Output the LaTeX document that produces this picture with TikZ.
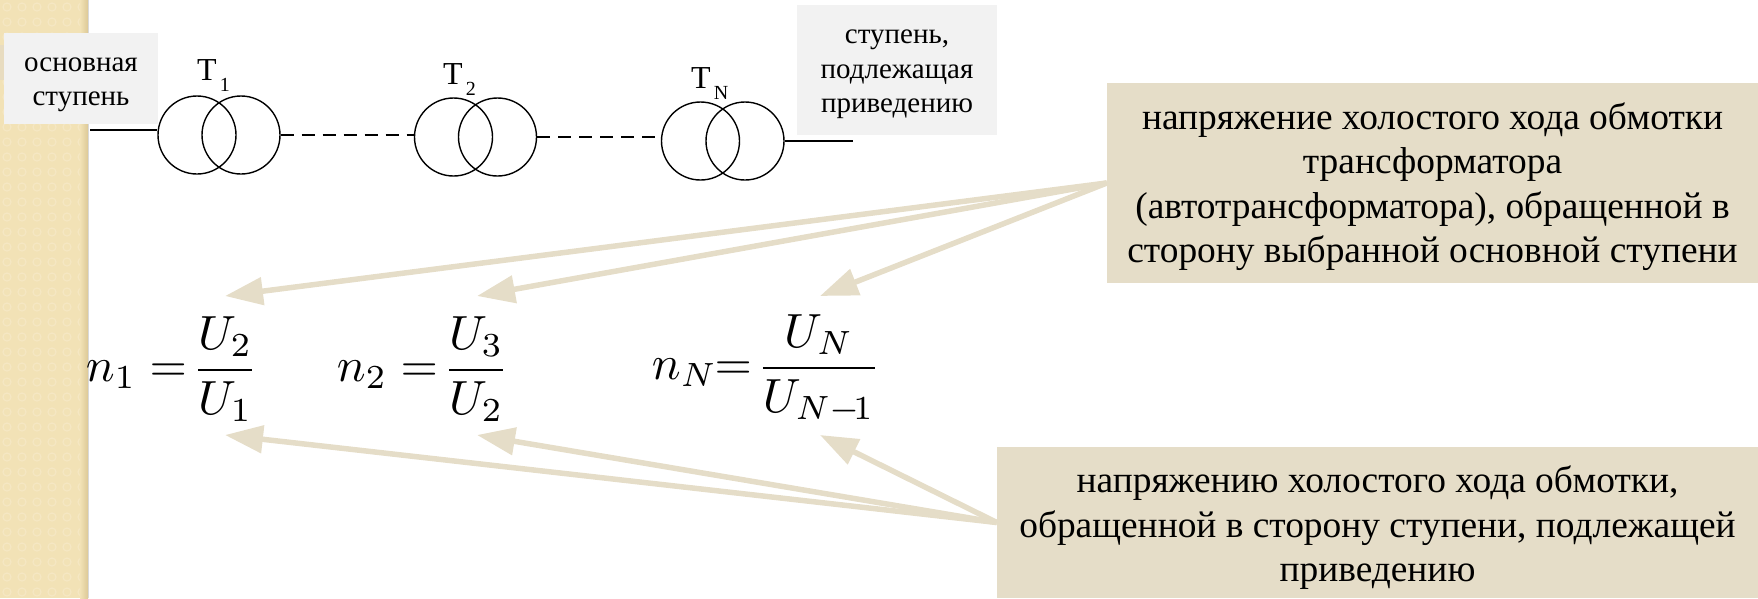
\documentclass[tikz,border=0pt]{standalone}
\usepackage{fontspec}
\setmainfont{Liberation Serif}
\usepackage{tikz}
\usetikzlibrary{positioning,arrows.meta}
\definecolor{calloutfill}{HTML}{E5DDC8}
\definecolor{labelfill}{HTML}{F2F2F2}
\definecolor{bandfill}{HTML}{F2E2B6}
\definecolor{banddot}{HTML}{F5E7C3}
\definecolor{bandedge}{HTML}{DCC996}
\definecolor{bandpatch}{HTML}{E8DCC0}
\newcommand{\tsub}[1]{\kern3pt\raisebox{-11pt}{\fontsize{20}{20}\selectfont #1}}
\tikzset{
  callarrow/.style={-{Triangle[length=38pt,width=27pt]}, line width=5.5pt, color=calloutfill},
  callout/.style={fill=calloutfill, inner sep=0pt, align=center, font=\fontsize{37.4}{44.5}\selectfont},
  stagelabel/.style={fill=labelfill, inner sep=0pt, align=center, font=\fontsize{29}{34.5}\selectfont},
  winding/.style={draw, circle, line width=1.4pt, minimum size=78pt, inner sep=0pt},
  busline/.style={line width=1.4pt},
  dashline/.style={line width=1.4pt, dash pattern=on 13pt off 8pt},
  tlabel/.style={inner sep=0pt, font=\fontsize{32}{36}\selectfont},
  formula/.style={inner sep=0pt, scale=4.8, anchor=west}
}
\begin{document}
\begin{tikzpicture}[x=1pt, y=-1pt]
  \useasboundingbox (0,0) rectangle (1758,598);
  % left band
  \fill[bandfill] (0,0) rectangle (88,598);
  \foreach \i in {0,...,5}
    \foreach \j in {0,...,39}
      \draw[banddot, line width=1.2pt] ({7+15*\i},{7+15*\j}) circle (4pt);
  \shade[left color=bandfill, right color=bandedge] (80,0) rectangle (88,598);
  \fill[gray!30] (88,0) rectangle (89,598);
  \fill[bandpatch] (0,45) rectangle (4,80);
  % labels
  \node[stagelabel, minimum width=154pt, minimum height=91pt] (mainstage) at (81,78.5) {\rule{0pt}{26pt}основная\\ступень};
  \node[stagelabel, minimum width=200pt, minimum height=130pt] (reducedstage) at (897,70) {\rule{0pt}{23pt}ступень,\\подлежащая\\приведению};
  % transformers
  \node[winding] (t1a) at (197,135) {};
  \node[winding] (t1b) at (241,135) {};
  \node[winding] (t2a) at (453.5,137) {};
  \node[winding] (t2b) at (497.5,137) {};
  \node[winding] (tna) at (700.5,141) {};
  \node[winding] (tnb) at (745,141) {};
  \node[tlabel, anchor=base west] (t1) at (197,80) {Т\tsub{1}};
  \node[tlabel, anchor=base west] (t2) at (443,84) {Т\tsub{2}};
  \node[tlabel, anchor=base west] (tn) at (691,88) {Т\tsub{N}};
  \coordinate (busin) at (90,130);
  \coordinate (busout) at (853,141);
  \draw[busline] (busin) -- (t1a.west |- busin);
  \draw[dashline] (t1b.east) -- (t1b.east -| t2a.west);
  \draw[dashline] (t2b.east) -- (t2b.east -| tna.west);
  \draw[busline] (tnb.east) -- (busout);
  % formulas
  \node[formula] (n1) at (85,369) {$n_1=\!\displaystyle\frac{U_2}{U_1}$};
  \node[formula] (n2) at (336,369) {$n_2=\!\displaystyle\frac{U_3}{U_2}$};
  \node[formula] (nn) at (651,369) {$n_N\!\!=\!\displaystyle\frac{U_N}{U_{N-\!1}}$};
  % callouts
  \node[callout, minimum width=651pt, minimum height=200pt] (opencoil) at (1432.5,183) {\rule{0pt}{34pt}напряжение холостого хода обмотки\\трансформатора\\(автотрансформатора), обращенной в\\сторону выбранной основной ступени};
  \node[callout, minimum width=761pt, minimum height=151pt] (reducedcoil) at (1377.5,522.5) {\rule{0pt}{37pt}напряжению холостого хода обмотки,\\обращенной в сторону ступени, подлежащей\\приведению};
  \coordinate (up1) at (225,296);
  \coordinate (up2) at (477,296);
  \coordinate (upn) at (820,296);
  \coordinate (lo1) at (225,435);
  \coordinate (lo2) at (477,435);
  \coordinate (lon) at (820,435);
  \foreach \tip in {up1,up2,upn}
    \draw[callarrow] (opencoil.west) -- (\tip);
  \foreach \tip in {lo1,lo2,lon}
    \draw[callarrow] (reducedcoil.west) -- (\tip);
\end{tikzpicture}
\end{document}
